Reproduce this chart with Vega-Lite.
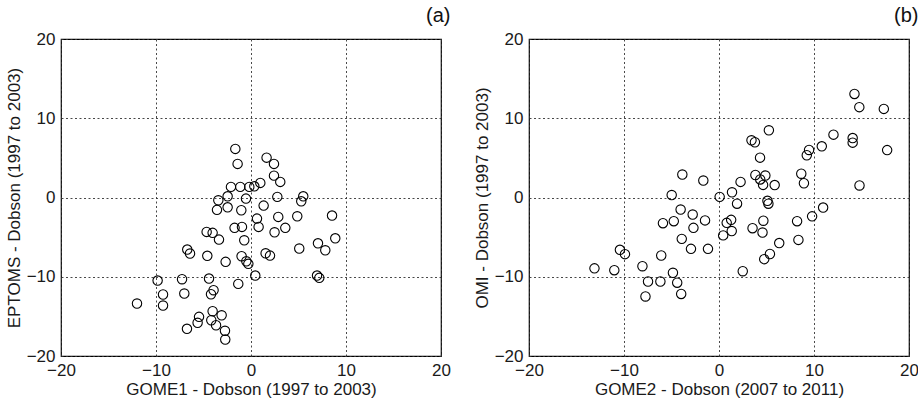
{
  "$schema": "https://vega.github.io/schema/vega-lite/v6.json",
  "background": "white",
  "padding": {"left": 4, "top": 5, "right": 6, "bottom": 4},
  "spacing": 88,
  "bounds": "flush",
  "datasets": {
    "a": [
      {"x": -1.65, "y": 6.13}, {"x": -1.41, "y": 4.24}, {"x": 1.64, "y": 5.03}, {"x": 2.42, "y": 4.24},
      {"x": 2.42, "y": 2.76}, {"x": 3.08, "y": 1.97}, {"x": -2.11, "y": 1.34}, {"x": -1.13, "y": 1.34},
      {"x": -0.18, "y": 1.34}, {"x": 0.35, "y": 1.41}, {"x": 0.98, "y": 1.84}, {"x": -2.46, "y": 0.15},
      {"x": -3.44, "y": -0.35}, {"x": -0.53, "y": -0.14}, {"x": 2.77, "y": 0.08}, {"x": 5.5, "y": 0.15},
      {"x": 5.29, "y": -0.48}, {"x": -3.58, "y": -1.56}, {"x": -2.46, "y": -1.24}, {"x": -1.02, "y": -1.61},
      {"x": 1.33, "y": -1.02}, {"x": 0.63, "y": -2.66}, {"x": 2.87, "y": -2.45}, {"x": 4.87, "y": -2.37},
      {"x": 8.53, "y": -2.28}, {"x": -1.73, "y": -3.83}, {"x": -0.95, "y": -3.71}, {"x": 0.8, "y": -3.71},
      {"x": 2.48, "y": -4.39}, {"x": 3.61, "y": -3.83}, {"x": -4.67, "y": -4.34}, {"x": -4.04, "y": -4.46},
      {"x": -3.37, "y": -5.31}, {"x": -0.71, "y": -5.4}, {"x": 8.87, "y": -5.15}, {"x": 5.08, "y": -6.44},
      {"x": 7.05, "y": -5.78}, {"x": 7.82, "y": -6.66}, {"x": -6.71, "y": -6.57}, {"x": -6.42, "y": -7.07},
      {"x": -4.6, "y": -7.36}, {"x": -2.67, "y": -8.12}, {"x": -0.99, "y": -7.41}, {"x": -0.49, "y": -8.05},
      {"x": -0.28, "y": -8.37}, {"x": 1.54, "y": -7.04}, {"x": 2.0, "y": -7.33}, {"x": 0.45, "y": -9.85},
      {"x": 6.95, "y": -9.85}, {"x": 7.19, "y": -10.14}, {"x": -7.26, "y": -10.31}, {"x": -4.42, "y": -10.23},
      {"x": -1.34, "y": -10.9}, {"x": -7.02, "y": -12.12}, {"x": -3.94, "y": -11.7}, {"x": -4.21, "y": -12.21},
      {"x": -4.04, "y": -14.35}, {"x": -3.09, "y": -14.86}, {"x": -5.47, "y": -15.06}, {"x": -5.62, "y": -15.81},
      {"x": -4.18, "y": -15.49}, {"x": -3.68, "y": -16.12}, {"x": -6.74, "y": -16.57}, {"x": -2.74, "y": -16.82},
      {"x": -2.71, "y": -17.92}, {"x": -12.0, "y": -13.38}, {"x": -9.83, "y": -10.48}, {"x": -9.26, "y": -12.24},
      {"x": -9.26, "y": -13.63}
    ],
    "b": [
      {"x": 14.26, "y": 13.07}, {"x": 14.77, "y": 11.4}, {"x": 17.35, "y": 11.18}, {"x": 5.25, "y": 8.48},
      {"x": 12.05, "y": 7.93}, {"x": 3.42, "y": 7.22}, {"x": 3.78, "y": 6.97}, {"x": 14.07, "y": 7.5},
      {"x": 14.07, "y": 6.92}, {"x": 10.82, "y": 6.46}, {"x": 9.48, "y": 6.0}, {"x": 9.24, "y": 5.33},
      {"x": 17.7, "y": 5.98}, {"x": 4.32, "y": 5.03}, {"x": -3.86, "y": 2.9}, {"x": 3.83, "y": 2.84},
      {"x": 4.88, "y": 2.77}, {"x": 4.34, "y": 2.28}, {"x": 4.64, "y": 1.59}, {"x": 5.86, "y": 1.57},
      {"x": 2.27, "y": 1.97}, {"x": -1.65, "y": 2.14}, {"x": 8.66, "y": 3.0}, {"x": 8.94, "y": 1.8},
      {"x": 14.79, "y": 1.52}, {"x": -4.98, "y": 0.31}, {"x": 0.07, "y": 0.08}, {"x": 1.37, "y": 0.66},
      {"x": 1.9, "y": -0.78}, {"x": 5.1, "y": -0.42}, {"x": 5.2, "y": -0.78}, {"x": -4.04, "y": -1.52},
      {"x": -2.77, "y": -2.15}, {"x": -5.9, "y": -3.24}, {"x": -4.76, "y": -2.99}, {"x": -1.47, "y": -2.89},
      {"x": -2.69, "y": -3.83}, {"x": 0.81, "y": -3.2}, {"x": 1.28, "y": -2.82}, {"x": 1.34, "y": -4.23},
      {"x": 0.44, "y": -4.78}, {"x": 3.53, "y": -3.87}, {"x": 4.67, "y": -2.93}, {"x": 4.58, "y": -4.42},
      {"x": 8.22, "y": -2.99}, {"x": 9.8, "y": -2.38}, {"x": 10.96, "y": -1.27}, {"x": 8.36, "y": -5.35},
      {"x": 6.34, "y": -5.75}, {"x": -3.92, "y": -5.22}, {"x": -2.95, "y": -6.48}, {"x": -1.16, "y": -6.48},
      {"x": 5.36, "y": -7.13}, {"x": 4.76, "y": -7.78}, {"x": -6.08, "y": -7.32}, {"x": -10.43, "y": -6.6},
      {"x": -9.9, "y": -7.15}, {"x": -13.11, "y": -8.94}, {"x": -11.02, "y": -9.17}, {"x": -8.06, "y": -8.67},
      {"x": -4.85, "y": -9.5}, {"x": -7.47, "y": -10.6}, {"x": -6.17, "y": -10.6}, {"x": -4.4, "y": -10.75},
      {"x": -7.74, "y": -12.49}, {"x": -3.98, "y": -12.17}, {"x": 2.5, "y": -9.3}
    ]
  },
  "config": {
    "font": "Liberation Sans",
    "view": {"stroke": "black", "strokeWidth": 1.2},
    "axis": {
      "domain": false,
      "ticks": false,
      "grid": true,
      "gridColor": "#333",
      "gridDash": [2, 2.5],
      "gridWidth": 0.9,
      "gridOpacity": 1,
      "labelFont": "Liberation Sans",
      "labelFontSize": 17,
      "labelColor": "#1a1a1a",
      "labelPadding": 6,
      "titleFont": "Liberation Sans",
      "titleFontSize": 17,
      "titleFontWeight": "normal",
      "titleColor": "#1a1a1a",
      "labelFlush": false,
      "labelOverlap": false
    },
    "axisY": {"titlePadding": 3},
    "axisX": {"titlePadding": 3}
  },
  "hconcat": [
    {
      "title": {"text": "(a)", "anchor": "end", "fontWeight": "normal", "fontSize": 20, "font": "Liberation Sans", "color": "#111", "offset": 4},
      "width": 380,
      "height": 317,
      "data": {"name": "a"},
      "mark": {"type": "point", "shape": "circle", "filled": false, "color": "black", "size": 88, "strokeWidth": 1.1, "opacity": 1},
      "encoding": {
        "x": {"field": "x", "type": "quantitative", "scale": {"domain": [-20, 20], "nice": false, "zero": false}, "axis": {"title": "GOME1 - Dobson (1997 to 2003)", "format": "d", "values": [-20, -10, 0, 10, 20]}},
        "y": {"field": "y", "type": "quantitative", "scale": {"domain": [-20, 20], "nice": false, "zero": false}, "axis": {"title": "EPTOMS - Dobson (1997 to 2003)", "format": "d", "values": [-20, -10, 0, 10, 20]}}
      }
    },
    {
      "title": {"text": "(b)", "anchor": "end", "fontWeight": "normal", "fontSize": 20, "font": "Liberation Sans", "color": "#111", "offset": 4},
      "width": 380,
      "height": 317,
      "data": {"name": "b"},
      "mark": {"type": "point", "shape": "circle", "filled": false, "color": "black", "size": 88, "strokeWidth": 1.1, "opacity": 1},
      "encoding": {
        "x": {"field": "x", "type": "quantitative", "scale": {"domain": [-20, 20], "nice": false, "zero": false}, "axis": {"title": "GOME2 - Dobson (2007 to 2011)", "format": "d", "values": [-20, -10, 0, 10, 20]}},
        "y": {"field": "y", "type": "quantitative", "scale": {"domain": [-20, 20], "nice": false, "zero": false}, "axis": {"title": "OMI - Dobson (1997 to 2003)", "format": "d", "values": [-20, -10, 0, 10, 20]}}
      }
    }
  ]
}
